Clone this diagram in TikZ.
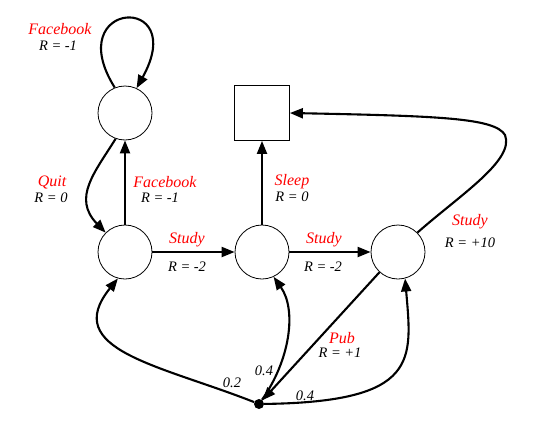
\documentclass[tikz,border=0pt]{standalone}
\usepackage{fontspec}
\setmainfont{Liberation Serif}
\usetikzlibrary{arrows.meta}

\begin{document}
\begin{tikzpicture}[x=1pt,y=-1pt,
  state/.style={circle,draw,line width=0.8pt,minimum size=54pt,inner sep=0pt},
  rest/.style={rectangle,draw,line width=0.8pt,minimum size=55pt,inner sep=0pt},
  dot/.style={circle,fill=black,minimum size=10pt,inner sep=0pt},
  act/.style={text=red,font=\fontsize{16}{18}\selectfont\itshape},
  rew/.style={font=\fontsize{14.5}{16}\selectfont\itshape},
  link/.style={line width=2.1pt,-{Triangle[length=13pt,width=10pt]}}]
\useasboundingbox (0,0) rectangle (537,431);

% states
\node[state] (fb) at (125,113) {};
\node[state] (c1) at (125,252) {};
\node[state] (c2) at (262,252) {};
\node[state] (c3) at (398,252) {};
\node[rest] (sleep) at (262,113) {};
\node[dot] (pub) at (259,404) {};

% transitions
\draw[link] (fb.112) .. controls (60,0) and (190,-8) .. (fb.65);
\draw[link] (fb.250) .. controls (95,172) and (72,198) .. (c1.135);
\draw[link] (c1) -- (fb);
\draw[link] (c1) -- (c2);
\draw[link] (c2) -- (c3);
\draw[link] (c2) -- (sleep);
\draw[link] (c3.45) .. controls (460,195) and (515,160) .. (505,135)
  .. controls (495,118) and (440,116) .. (sleep.east);
\draw[link] (c3) -- (pub);
\draw[link] (pub) .. controls (160,365) and (60,350) .. (c1.255);
\draw[link] (pub) .. controls (290,360) and (297,310) .. (c2.295);
\draw[link] (pub) .. controls (420,402) and (412,360) .. (c3.285);

% labels
\node[act] (l1) at (60,29) {Facebook};
\node[rew] (r1) at (58,46) {R = -1};
\node[act] (l2) at (52,182) {Quit};
\node[rew] (r2) at (51,198) {R = 0};
\node[act] (l3) at (165,182) {Facebook};
\node[rew] (r3) at (160,198) {R = -1};
\node[act] (l4) at (187,240) {Study};
\node[rew] (r4) at (187,267) {R = -2};
\node[act] (l5) at (292,182) {Sleep};
\node[rew] (r5) at (292,197) {R = 0};
\node[act] (l6) at (324,240) {Study};
\node[rew] (r6) at (323,267) {R = -2};
\node[act] (l7) at (470,222) {Study};
\node[rew] (r7) at (470,243) {R = +10};
\node[act] (l8) at (342,338) {Pub};
\node[rew] (r8) at (340,353) {R = +1};
\node[rew] (p1) at (232,383) {0.2};
\node[rew] (p2) at (264,371) {0.4};
\node[rew] (p3) at (305,396) {0.4};

\end{tikzpicture}
\end{document}
